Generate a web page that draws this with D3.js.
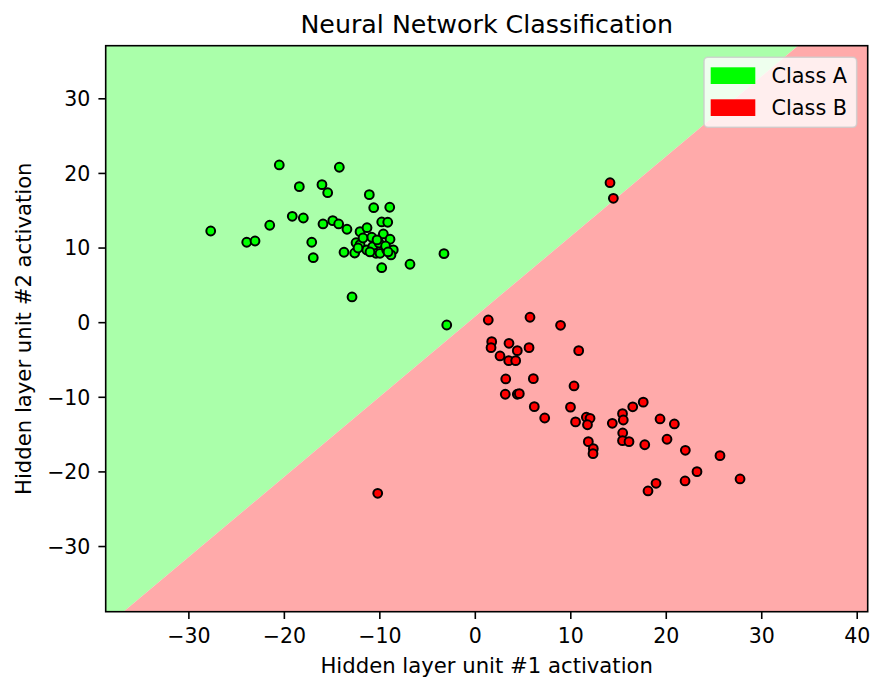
<!DOCTYPE html>
<html>
<head>
<meta charset="utf-8">
<script src="https://cdn.jsdelivr.net/npm/d3@7"></script>
<style>
  html, body { margin: 0; padding: 0; background: #ffffff; }
  svg text { font-family: "DejaVu Sans", sans-serif; fill: #000; }
</style>
</head>
<body>
<svg id="chart" width="872" height="681"></svg>
<script>
// Hidden-layer activations of the two classes
const classA_x = [-20.48, -14.19, -18.38, -16.01, -15.41, -11.05, -10.59, -8.91, -19.12, -17.96,
                  -15.90, -14.88, -14.26, -13.39, -9.75, -9.12, -27.66, -21.48, -23.89, -23.02,
                  -17.08, -16.92, -12.02, -11.29, -10.80, -9.58, -8.88, -12.44, -12.02, -11.32,
                  -10.69, -13.70, -12.58, -10.35, -9.93, -9.23, -8.54, -8.78, -9.75, -6.79,
                  -3.23, -12.86, -2.94, -11.71, -10.03, -9.35, -10.98, -9.09, -12.23, -10.24];
const classA_y = [21.07, 20.76, 18.16, 18.43, 17.35, 17.09, 15.34, 15.40, 14.19, 13.96,
                  13.16, 13.60, 13.16, 12.45, 13.43, 13.39, 12.22, 12.99, 10.71, 10.88,
                  10.71, 8.64, 12.13, 12.66, 11.38, 11.82, 11.11, 10.65, 10.39, 9.68,
                  10.12, 9.37, 9.27, 9.23, 9.23, 9.68, 9.68, 9.01, 7.30, 7.76,
                  9.18, 3.38, -0.38, 11.28, 10.61, 10.21, 9.41, 9.41, 9.94, 11.02];
const classB_x = [1.41, 5.78, 8.98, 1.77, 1.70, 3.58, 4.45, 5.68, 2.64, 3.55,
                  4.28, 10.88, 3.24, 6.13, 10.39, 3.19, 4.45, 4.66, 6.23, 7.32,
                  10.02, 10.55, 11.68, 12.07, 11.80, 11.89, 12.41, 12.38, 14.40, 15.47,
                  15.55, 16.54, 17.64, 15.49, 15.47, 16.15, 17.80, 19.40, 14.16, 14.51,
                  20.90, 20.13, 22.05, 25.68, 23.27, 22.02, 18.98, 18.14, 27.78, -10.17];
const classB_y = [0.29, 0.66, -0.42, -2.61, -3.42, -2.83, -3.82, -3.42, -4.53, -5.16,
                  -5.16, -3.82, -7.61, -7.57, -8.55, -9.66, -9.66, -9.58, -11.32, -12.84,
                  -11.39, -13.37, -12.74, -12.88, -13.75, -16.01, -16.95, -17.62, -13.55, -12.26,
                  -13.11, -11.34, -10.72, -14.85, -15.88, -16.01, -16.43, -12.97, 18.69, 16.60,
                  -13.64, -15.69, -17.17, -17.89, -20.03, -21.28, -21.59, -22.62, -21.01, -22.93];

// Decision boundary of the trained network (end points across the grid)
const boundaryX = [-36.8, 33.85];
const boundaryY = [-38.8, 37.05];

// Axis extent and ticks
const xDomain = [-38.66, 41.15];
const yDomain = [-38.8, 37.05];
const xTicks = [-30, -20, -10, 0, 10, 20, 30, 40];
const yTicks = [-30, -20, -10, 0, 10, 20, 30];

const classNames = ["Class A", "Class B"];
const pointColors = ["#00ff00", "#ff0000"];
const regionColors = ["#aaffaa", "#ffaaaa"];

const svg = d3.select("#chart");
const plotLeft = 105.7, plotRight = 867.7, plotTop = 45.7, plotBottom = 611.7;

const x = d3.scaleLinear().domain(xDomain).range([plotLeft, plotRight]);
const y = d3.scaleLinear().domain(yDomain).range([plotBottom, plotTop]);

const line = d3.line().x(d => x(d[0])).y(d => y(d[1]));

// Decision regions
const [x0, x1] = xDomain, [y0, y1] = yDomain;
const regionA = [[x0, y1], [boundaryX[1], boundaryY[1]], [boundaryX[0], boundaryY[0]], [x0, y0]];
const regionB = [[boundaryX[1], boundaryY[1]], [x1, y1], [x1, y0], [boundaryX[0], boundaryY[0]]];
svg.append("path").attr("d", line(regionA) + "Z").attr("fill", regionColors[0]);
svg.append("path").attr("d", line(regionB) + "Z").attr("fill", regionColors[1]);

// Points
const sets = [
  d3.zip(classA_x, classA_y),
  d3.zip(classB_x, classB_y)
];
sets.forEach((pts, i) => {
  svg.append("g").selectAll("circle").data(pts).join("circle")
    .attr("cx", d => x(d[0]))
    .attr("cy", d => y(d[1]))
    .attr("r", 4.4)
    .attr("fill", pointColors[i])
    .attr("stroke", "#000")
    .attr("stroke-width", 2);
});

// Axes
const fmt = d => d < 0 ? "\u2212" + Math.abs(d) : String(d);
const xAxis = svg.append("g").attr("transform", `translate(0,${plotBottom})`)
  .call(d3.axisBottom(x).tickValues(xTicks).tickSize(7.3).tickPadding(6).tickFormat(fmt));
const yAxis = svg.append("g").attr("transform", `translate(${plotLeft},0)`)
  .call(d3.axisLeft(y).tickValues(yTicks).tickSize(7.3).tickPadding(8).tickFormat(fmt));
[xAxis, yAxis].forEach(g => {
  g.select(".domain").remove();
  g.selectAll(".tick line").attr("stroke", "#000").attr("stroke-width", 1.6);
  g.selectAll(".tick text").attr("font-size", 20.5).attr("font-family", "DejaVu Sans").attr("fill", "#000");
});
xAxis.selectAll(".tick text").attr("dy", null).attr("y", 31.6);
yAxis.selectAll(".tick text").attr("dy", "0.36em");

// Frame
svg.append("rect")
  .attr("x", plotLeft).attr("y", plotTop)
  .attr("width", plotRight - plotLeft).attr("height", plotBottom - plotTop)
  .attr("fill", "none").attr("stroke", "#000").attr("stroke-width", 1.6);

// Title and axis labels
svg.append("text").attr("x", (plotLeft + plotRight) / 2).attr("y", 33.3)
  .attr("text-anchor", "middle").attr("font-size", 25.3)
  .text("Neural Network Classification");
svg.append("text").attr("x", (plotLeft + plotRight) / 2).attr("y", 673.3)
  .attr("text-anchor", "middle").attr("font-size", 21.2)
  .text("Hidden layer unit #1 activation");
svg.append("text")
  .attr("transform", `translate(31,${(plotTop + plotBottom) / 2}) rotate(-90)`)
  .attr("text-anchor", "middle").attr("font-size", 21.2)
  .text("Hidden layer unit #2 activation");

// Legend
const legend = svg.append("g");
legend.append("rect")
  .attr("x", 704).attr("y", 57.3).attr("width", 152.7).attr("height", 70)
  .attr("rx", 4).attr("fill", "#ffffff").attr("fill-opacity", 0.8)
  .attr("stroke", "#cccccc").attr("stroke-opacity", 0.8).attr("stroke-width", 1.6);
classNames.forEach((name, i) => {
  const yy = 67.3 + i * 32;
  legend.append("rect")
    .attr("x", 710.7).attr("y", yy).attr("width", 44.6).attr("height", 16.7)
    .attr("fill", pointColors[i]);
  legend.append("text")
    .attr("x", 771.5).attr("y", yy + 15.4)
    .attr("font-size", 20.8)
    .text(name);
});
</script>
</body>
</html>
